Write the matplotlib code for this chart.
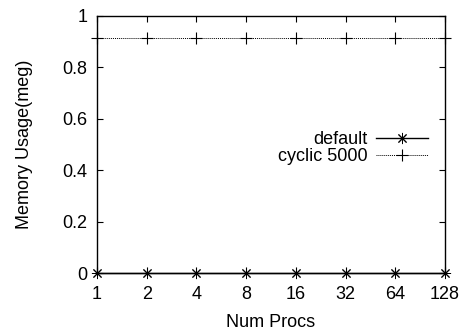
import numpy as np
import matplotlib
matplotlib.use('Agg')
import matplotlib.pyplot as plt

plt.rcParams['font.family'] = ['Liberation Sans', 'DejaVu Sans']
plt.rcParams['font.size'] = 13

procs = [1, 2, 4, 8, 16, 32, 64, 128]
mem_default = [0, 0, 0, 0, 0, 0, 0, 0]
mem_cyclic = [0.915, 0.915, 0.915, 0.915, 0.915, 0.915, 0.915, 0.915]

fig = plt.figure(figsize=(4.61, 3.31), dpi=100)
ax = fig.add_axes([0.2104, 0.1752, 0.7549, 0.7765])

ax.plot(procs, mem_default, color='black', lw=1, marker=(8, 2, 0), ms=8,
        mew=0.7, label='default', clip_on=False, zorder=3)
ax.plot(procs, mem_cyclic, color='black', lw=0.7, ls=(0, (1, 1)), marker='+',
        ms=9, mew=0.8, label='cyclic 5000', clip_on=False, zorder=3)

ax.set_xscale('log', base=2)
ax.set_xlim(1, 128)
ax.set_ylim(0, 1)
ax.set_xticks(procs)
ax.set_xticklabels([str(p) for p in procs])
ax.minorticks_off()
ax.set_yticks(np.arange(0, 1.01, 0.2))
ax.set_yticklabels(['0', '0.2', '0.4', '0.6', '0.8', '1'])
ax.tick_params(direction='in', length=4, width=0.8, top=True, right=True,
               labelsize=13)
ax.tick_params(axis='y', pad=7)
ax.tick_params(axis='x', pad=9)
for s in ax.spines.values():
    s.set_linewidth(1)

ax.set_xlabel('Num Procs', labelpad=8)
ax.set_ylabel('Memory Usage(meg)', labelpad=21)

leg = ax.legend(loc='center right', bbox_to_anchor=(0.951, 0.486), frameon=False,
                markerfirst=False, handlelength=2.9, handletextpad=0.45,
                labelspacing=0.0, borderaxespad=0, borderpad=0)

fig.savefig('out.png', dpi=100)
